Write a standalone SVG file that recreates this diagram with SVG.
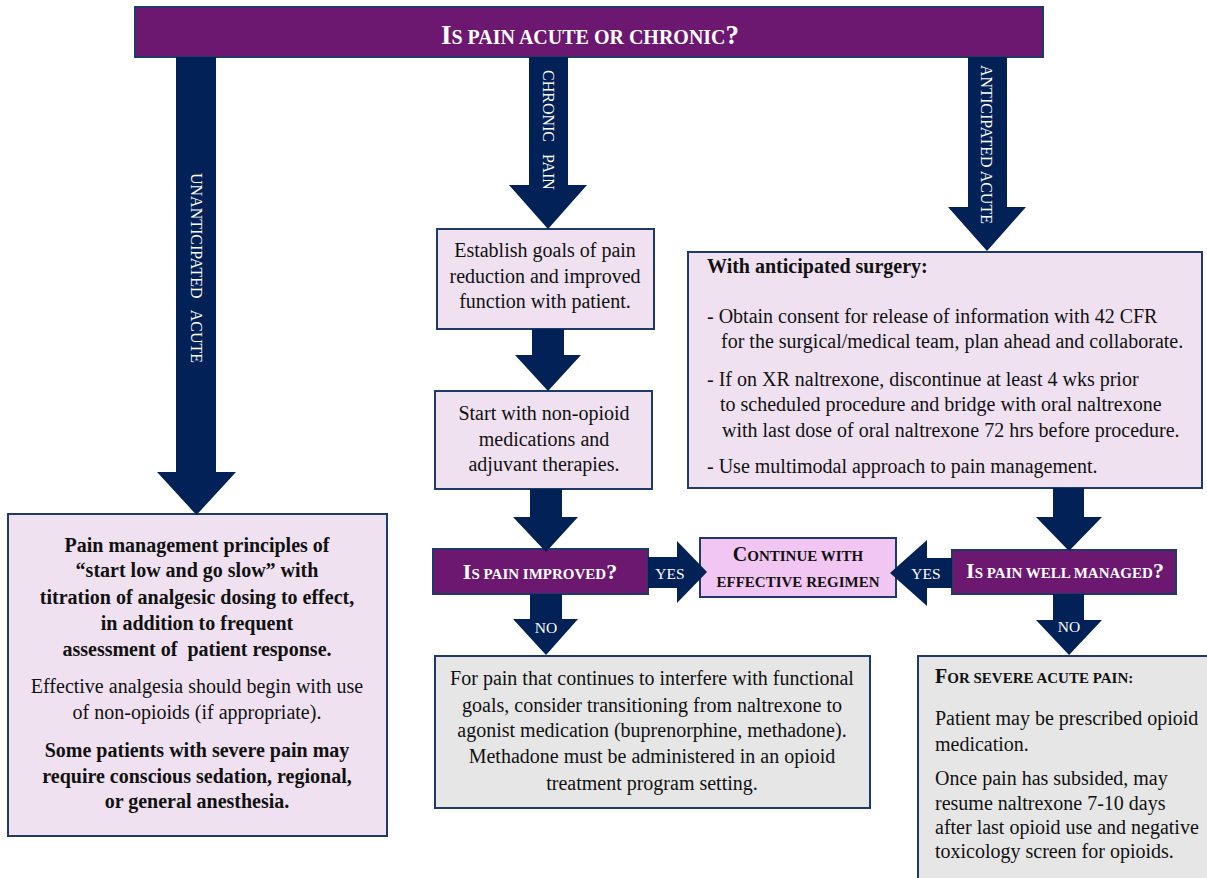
<svg xmlns="http://www.w3.org/2000/svg" width="1207" height="878" viewBox="0 0 1207 878">
<style>
text{font-family:"Liberation Serif","Times New Roman",serif;}
.box{fill:#EFE1F0;stroke:#1F3A68;stroke-width:2;}
.grey{fill:#E6E6E6;stroke:#1F3A68;stroke-width:2;}
.pink{fill:#F2C6F2;stroke:#1F3A68;stroke-width:2;}
.dec{fill:#6C1770;stroke:#1F3A68;stroke-width:2;}
.arr{fill:#022157;}
.t{font-size:20px;fill:#111;}
.b{font-weight:bold;}
.c{text-anchor:middle;}
.w{fill:#fff;}
.lab{font-size:15.5px;fill:#fff;text-anchor:middle;}
.vl{font-size:16px;fill:#fff;}
</style>
<rect width="1207" height="878" fill="#fff"/>

<g id="n-title">
<rect class="dec" x="135" y="7" width="908" height="50"/>
<text x="590" y="44" class="b c w" font-size="27">I<tspan font-size="20">S PAIN ACUTE OR CHRONIC</tspan>?</text>
</g>

<g id="n-unanticipated">
<rect class="box" x="8" y="514" width="379" height="322"/>
<text class="t b c"><tspan x="197" y="552">Pain management principles of</tspan><tspan x="197" y="577">“start low and go slow” with</tspan><tspan x="197" y="604">titration of analgesic dosing to effect,</tspan><tspan x="197" y="630">in addition to frequent</tspan><tspan x="197" y="656">assessment of&#160; patient response.</tspan></text>
<text class="t c"><tspan x="197" y="693">Effective analgesia should begin with use</tspan><tspan x="197" y="719">of non-opioids (if appropriate).</tspan></text>
<text class="t b c"><tspan x="197" y="757">Some patients with severe pain may</tspan><tspan x="197" y="783">require conscious sedation, regional,</tspan><tspan x="197" y="808">or general anesthesia.</tspan></text>
</g>

<g id="n-goals">
<rect class="box" x="437" y="229" width="217" height="100"/>
<text class="t c"><tspan x="545" y="257">Establish goals of pain</tspan><tspan x="545" y="283">reduction and improved</tspan><tspan x="545" y="308">function with patient.</tspan></text>
</g>

<g id="n-nonopioid">
<rect class="box" x="435" y="391" width="217" height="98"/>
<text class="t c"><tspan x="544" y="420">Start with non-opioid</tspan><tspan x="544" y="446">medications and</tspan><tspan x="544" y="471">adjuvant therapies.</tspan></text>
</g>

<g id="n-surgery">
<rect class="box" x="688" y="252" width="514" height="236"/>
<text class="t b" x="707" y="273">With anticipated surgery:</text>
<text class="t" font-size="20.5"><tspan x="707" y="323">- Obtain consent for release of information with 42 CFR</tspan><tspan x="721" y="348">for the surgical/medical team, plan ahead and collaborate.</tspan><tspan x="707" y="386">- If on XR naltrexone, discontinue at least 4 wks prior</tspan><tspan x="720" y="411">to scheduled procedure and bridge with oral naltrexone</tspan><tspan x="722" y="437">with last dose of oral naltrexone 72 hrs before procedure.</tspan><tspan x="707" y="473">- Use multimodal approach to pain management.</tspan></text>
</g>

<g id="n-improved">
<rect class="dec" x="433" y="549" width="215" height="45"/>
<text x="540" y="579" class="b c w" font-size="22">I<tspan font-size="15">S PAIN IMPROVED</tspan>?</text>
</g>

<g id="n-continue">
<rect class="pink" x="700" y="538" width="196" height="59"/>
<text class="b c" fill="#111" font-size="20"><tspan x="798" y="561">C<tspan font-size="15">ONTINUE WITH</tspan></tspan><tspan x="798" y="587" font-size="15">EFFECTIVE REGIMEN</tspan></text>
</g>

<g id="n-managed">
<rect class="dec" x="952" y="550" width="224" height="44"/>
<text x="1065" y="578" class="b c w" font-size="22">I<tspan font-size="15">S PAIN WELL MANAGED</tspan>?</text>
</g>

<g id="n-transition">
<rect class="grey" x="435" y="656" width="435" height="152"/>
<text class="t c"><tspan x="652" y="685">For pain that continues to interfere with functional</tspan><tspan x="652" y="712">goals, consider transitioning from naltrexone to</tspan><tspan x="652" y="737">agonist medication (buprenorphine, methadone).</tspan><tspan x="652" y="763">Methadone must be administered in an opioid</tspan><tspan x="652" y="790">treatment program setting.</tspan></text>
</g>

<g id="n-severe">
<rect class="grey" x="918" y="656" width="300" height="240"/>
<text x="935" y="683" class="b" fill="#111" font-size="20">F<tspan font-size="15">OR SEVERE ACUTE PAIN:</tspan></text>
<text class="t"><tspan x="935" y="725">Patient may be prescribed opioid</tspan><tspan x="935" y="751">medication.</tspan><tspan x="935" y="785">Once pain has subsided, may</tspan><tspan x="935" y="810">resume naltrexone 7-10 days</tspan><tspan x="935" y="834">after last opioid use and negative</tspan><tspan x="935" y="858">toxicology screen for opioids.</tspan></text>
</g>

<g id="connectors">
<polygon class="arr" points="176,57 216,57 216,472 236,472 196.5,515 157,472 176,472"/>
<text class="vl" transform="translate(196,173) rotate(90)" x="0" y="5.5">UNANTICIPATED&#160;&#160; ACUTE</text>
<polygon class="arr" points="529,57 568,57 568,185 587,185 548,229 509,185 529,185"/>
<text class="vl" font-size="18.5" transform="translate(549,70) rotate(90)" x="0" y="6">CHRONIC&#160;&#160; PAIN</text>
<polygon class="arr" points="968,57 1007,57 1007,207 1026,207 987,251 948,207 968,207"/>
<text class="vl" transform="translate(986,65) rotate(90)" x="0" y="5.5">ANTICIPATED ACUTE</text>
<polygon class="arr" points="532,329 564,329 564,355 581,355 548,391 515,355 532,355"/>
<polygon class="arr" points="530,489 562,489 562,517 578,517 546,552 513,517 530,517"/>
<polygon class="arr" points="1053,488 1084,488 1084,517 1102,517 1069,551 1036,517 1053,517"/>
<polygon class="arr" points="648,557 677,557 677,541 707,572 677,603 677,588 648,588"/>
<text class="lab" x="670" y="579">YES</text>
<polygon class="arr" points="952,558 927,558 927,540 890,573 927,606 927,588 952,588"/>
<text class="lab" x="926" y="579">YES</text>
<polygon class="arr" points="530,594 562,594 562,619 578,619 546,655 513,619 530,619"/>
<text class="lab" font-size="16" x="546" y="633">NO</text>
<polygon class="arr" points="1053,594 1084,594 1084,620 1102,620 1069,655 1036,620 1053,620"/>
<text class="lab" font-size="16" x="1069" y="632">NO</text>
</g>
</svg>
